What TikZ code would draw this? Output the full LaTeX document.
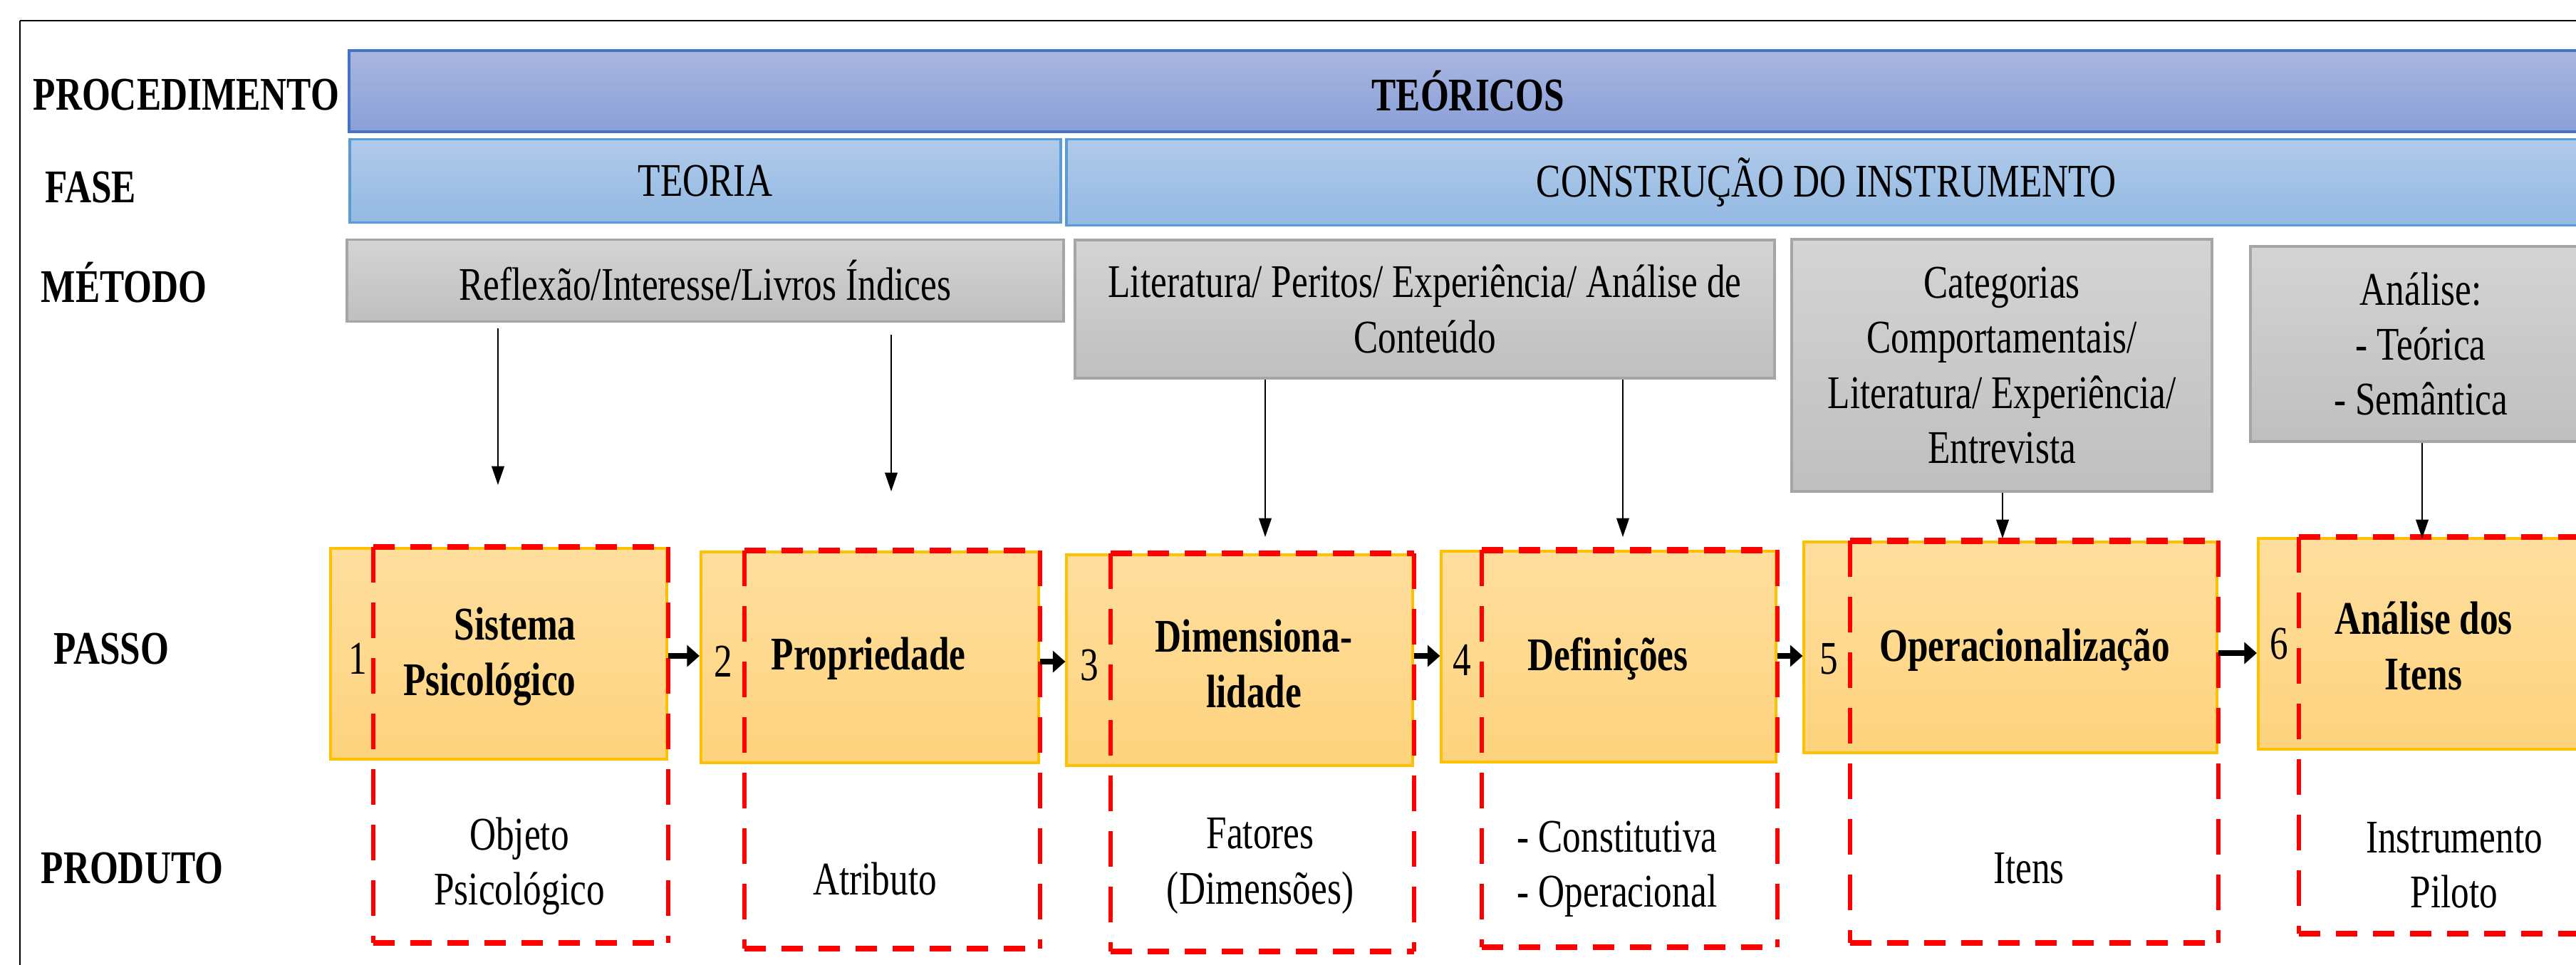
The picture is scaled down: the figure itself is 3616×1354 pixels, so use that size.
\documentclass[tikz,border=0pt]{standalone}
\usepackage{fontspec}
\setmainfont{Liberation Serif}[FakeStretch=0.78]
\usepackage{tikz}
\usetikzlibrary{arrows.meta, positioning}
\definecolor{procline}{RGB}{68,114,196}
\definecolor{proctop}{RGB}{169,182,224}
\definecolor{procbot}{RGB}{138,160,216}
\definecolor{faseline}{RGB}{91,155,213}
\definecolor{fasetop}{RGB}{176,202,233}
\definecolor{fasebot}{RGB}{147,185,227}
\definecolor{metline}{RGB}{165,165,165}
\definecolor{mettop}{RGB}{212,212,212}
\definecolor{metbot}{RGB}{191,191,191}
\definecolor{stepline}{RGB}{255,192,0}
\definecolor{steptop}{RGB}{254,222,158}
\definecolor{stepbot}{RGB}{254,211,125}
\newcommand{\figfont}{\fontsize{18.7}{22}\selectfont}

\begin{document}
\begin{tikzpicture}[x=0.01cm, y=-0.01cm, font=\figfont,
    rowlabel/.style={font=\figfont\bfseries, anchor=west, inner sep=0pt},
    procbar/.style={draw=procline, line width=1.1pt, top color=proctop, bottom color=procbot, inner sep=0pt, font=\figfont\bfseries},
    fasebar/.style={draw=faseline, line width=1.1pt, top color=fasetop, bottom color=fasebot, inner sep=0pt},
    metbox/.style={draw=metline, line width=1.1pt, top color=mettop, bottom color=metbot, inner sep=0pt, align=center},
    stepbox/.style={draw=stepline, line width=1.1pt, top color=steptop, bottom color=stepbot, inner sep=0pt},
    steptitle/.style={font=\figfont\bfseries, align=center},
    vline/.style={-{Triangle[length=7.5pt, width=5pt]}, line width=0.6pt},
    harrow/.style={-{Triangle[length=5pt, width=8.5pt]}, line width=2.2pt},
    redh/.style={red, line width=2.4pt, dash pattern=on 0.3cm off 0.22cm},
    redv/.style={red, line width=1.7pt, dash pattern=on 0.5cm off 0.28cm}]
    \useasboundingbox (0,0) rectangle (3616,1354);

    % Frame
    \draw[line width=0.85pt] (28,29) -- (3640,29);
    \draw[line width=0.4pt] (28,29) -- (28,1360);

    % Row labels
    \node[rowlabel] (lproc) at (46,133) {PROCEDIMENTO};
    \node[rowlabel] (lfase) at (63,263) {FASE};
    \node[rowlabel] (lmet) at (57,397) {MÉTODO};
    \node[rowlabel] (lpasso) at (75,911) {PASSO};
    \node[rowlabel] (lprod) at (57,1219) {PRODUTO};

    % Procedimento and fases
    \node[procbar, minimum width=31.40cm, minimum height=1.14cm] (proc) at (2061,128) {TEÓRICOS};
    \node[fasebar, minimum width=9.98cm, minimum height=1.17cm] (teoria) at (990,254) {TEORIA};
    \node[fasebar, minimum width=21.32cm, minimum height=1.21cm] (constr) at (2564,256) {CONSTRUÇÃO DO INSTRUMENTO};

    % Metodos
    \node[metbox, minimum width=10.05cm, minimum height=1.15cm] (m1) at (990,394) {Reflexão/Interesse/Livros Índices};
    \node[metbox, minimum width=9.81cm, minimum height=1.94cm] (m2) at (2000,434) {Literatura/ Peritos/ Experiência/ Análise de\\Conteúdo};
    \node[metbox, minimum width=5.90cm, minimum height=3.53cm] (m3) at (2810,513) {Categorias\\Comportamentais/\\Literatura/ Experiência/\\Entrevista};
    \node[metbox, minimum width=4.78cm, minimum height=2.74cm] (m4) at (3398,483) {Análise:\\- Teórica\\- Semântica};

    % Passos
    \node[stepbox, minimum width=4.71cm, minimum height=2.96cm] (s1) at (700,918) {};
    \node[stepbox, minimum width=4.74cm, minimum height=2.96cm] (s2) at (1221,923) {};
    \node[stepbox, minimum width=4.85cm, minimum height=2.96cm] (s3) at (1740,927) {};
    \node[stepbox, minimum width=4.69cm, minimum height=2.95cm] (s4) at (2258,922) {};
    \node[stepbox, minimum width=5.79cm, minimum height=2.95cm] (s5) at (2822,909) {};
    \node[stepbox, minimum width=4.64cm, minimum height=2.96cm] (s6) at (3402,904) {};

    \node[steptitle, align=right, anchor=east] (t1) at (821,922) {Sistema\\Psicológico};
    \node[steptitle] (t2) at (1219,925) {Propriedade};
    \node[steptitle] (t3) at (1760,932) {Dimensiona-\\lidade};
    \node[steptitle] (t4) at (2257,925) {Definições};
    \node[steptitle] (t5) at (2842,913) {Operacionalização};
    \node[steptitle] (t6) at (3402,907) {Análise dos\\Itens};

    \node (n1) at (502,925) {1};
    \node (n2) at (1015,929) {2};
    \node (n3) at (1529,934) {3};
    \node (n4) at (2052,927) {4};
    \node (n5) at (2567,925) {5};
    \node (n6) at (3199,904) {6};

    % Produtos
    \node[align=center] (p1) at (729,1216) {Objeto\\Psicológico};
    \node (p2) at (1228,1234) {Atributo};
    \node[align=center] (p3) at (1769,1216) {Fatores\\(Dimensões)};
    \node[align=left] (p4) at (2270,1220) {- Constitutiva\\- Operacional};
    \node (p5) at (2848,1219) {Itens};
    \node[align=center] (p6) at (3445,1215) {Instrumento\\Piloto};

    % Red dashed frames
    \foreach \s/\xl/\yb in {s1/524/1324, s2/1045/1332, s3/1559/1336, s4/2080/1330, s5/2597/1324, s6/3227/1311}{
        \coordinate (\s-a) at (\s.north -| \xl,0);
        \coordinate (\s-b) at (\s.east |- \xl,\yb);
        \draw[redv] (\s-a) -- (\xl,\yb);
        \draw[redv] (\s.north east) -- (\s-b);
        \draw[redh] (\s-a) -- (\s.north east);
        \draw[redh] (\xl,\yb) -- (\s-b);
    }

    % Arrows
    \foreach \m/\x/\y/\g in {m1/699/681/0.08, m1/1251/690/0.17, m2/1776/754/0, m2/2278/754/0, m3/2811/756/0, m4/3400/756/0}
        \draw[vline, shorten <=\g cm] (\m.south -| \x,0) -- (\x,\y);
    \foreach \a/\b/\y in {s1/s2/921, s2/s3/929, s3/s4/921, s4/s5/921, s5/s6/917}
        \draw[harrow] (\a.east |- 0,\y) -- (\b.west |- 0,\y);
\end{tikzpicture}
\end{document}
